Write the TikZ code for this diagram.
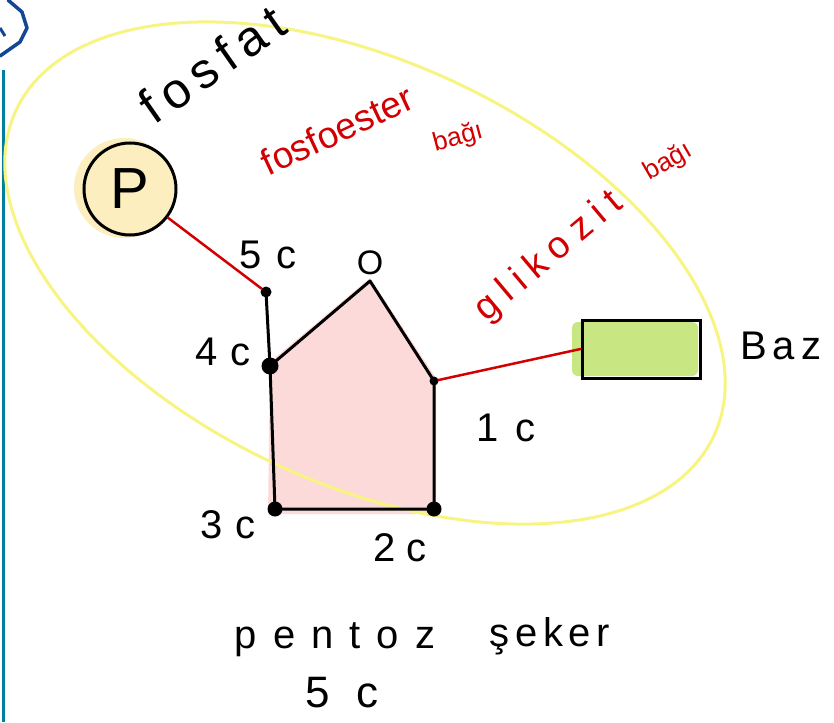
\documentclass[tikz,border=0pt]{standalone}
\usepackage{fontspec}
\setmainfont{Liberation Sans}
\definecolor{ellipseyellow}{RGB}{248,244,130}
\definecolor{sugarpink}{RGB}{253,218,218}
\definecolor{phosfill}{RGB}{252,238,190}
\definecolor{basegreen}{RGB}{200,230,130}
\definecolor{bondred}{RGB}{210,0,0}
\definecolor{marginteal}{RGB}{0,128,160}
\definecolor{penblue}{RGB}{20,70,150}
\newcommand{\lsp}[2]{{\addfontfeature{LetterSpace=#1}#2}}
\begin{document}
\begin{tikzpicture}[x=1pt,y=-1pt,
  ink/.style={line width=3pt, line cap=round, line join=round, black},
  bond/.style={line width=2.5pt, line cap=round, bondred},
  lbl/.style={inner sep=0pt, font=\fontsize{40}{44}\selectfont},
  redlbl/.style={inner sep=0pt, text=bondred},
  dot/.style={circle, fill=black, inner sep=0pt}]
\useasboundingbox (0,0) rectangle (834,722);

% margin marks
\draw[line width=3pt, marginteal] (3,70) -- (3,722);
\draw[line width=3.5pt, penblue, line cap=round, line join=round]
  (8,0) -- (22,12) -- (27,28) -- (20,42) -- (0,56);
\draw[line width=3pt, penblue] (0,28) -- (5,36);

% fills
\fill[sugarpink] (270,362) -- (370,278) -- (436,378) -- (436,514) -- (268,514) -- cycle;
\fill[basegreen, rounded corners=6pt] (572,322) rectangle (698,376);
\fill[phosfill] (124,188) circle (50);

% ellipse
\draw[line width=3pt, ellipseyellow, rotate around={-25:(365,273)}] (365,273) ellipse [x radius=385, y radius=211];

% coordinates
\coordinate (c5) at (266,292);
\coordinate (c4) at (270,366);
\coordinate (o) at (370,281);
\coordinate (c1) at (434,381);
\coordinate (c2) at (434,509);
\coordinate (c3) at (275,509);

% phosphate
\node[circle, draw=black, line width=3pt, minimum size=92pt, inner sep=0pt,
      font=\fontsize{58}{60}\selectfont] (p) at (130,189) {P};

% sugar ring
\draw[ink] (c4) -- (o) -- (c1) -- (c2) -- (c3) -- cycle;
\draw[ink] (c5) -- (c4);
\node[dot, minimum size=11pt] (d5) at (c5) {};
\node[dot, minimum size=17pt] (d4) at (c4) {};
\node[dot, minimum size=9pt] (d1) at (c1) {};
\node[dot, minimum size=15pt] (d2) at (c2) {};
\node[dot, minimum size=15pt] (d3) at (c3) {};

% base
\node[draw=black, line width=3pt, minimum width=118pt, minimum height=58pt, inner sep=0pt] (baz) at (641,349) {};

% bonds
\draw[bond] (p) -- (d5);
\draw[bond] (d1) -- (baz.west);

% labels
\node[lbl, rotate=35, font=\fontsize{50}{54}\selectfont] (fosfat) at (212,64) {\lsp{17}{fosfat}};
\node[redlbl, rotate=25, font=\fontsize{37}{40}\selectfont] (fe) at (337,130) {fosfoester};
\node[redlbl, rotate=15, font=\fontsize{26}{28}\selectfont] (fe2) at (458,138) {bağı};
\node[redlbl, rotate=40, font=\fontsize{38}{40}\selectfont] (gl) at (549,257) {\lsp{24}{glikozit}};
\node[redlbl, rotate=30, font=\fontsize{26}{28}\selectfont] (gl2) at (668,162) {bağı};

\node[lbl] (l5) at (268,255) {\lsp{10}{5 c}};
\node[lbl, font=\fontsize{34}{36}\selectfont] (lo) at (370,263) {O};
\node[lbl] (l4) at (223,352) {\lsp{5}{4 c}};
\node[lbl] (l1) at (506,428) {\lsp{15}{1 c}};
\node[lbl] (l3) at (228,525) {\lsp{5}{3 c}};
\node[lbl] (l2) at (400,548) {2 c};
\node[lbl, anchor=west, font=\fontsize{40}{44}\selectfont] (lb) at (740,346) {\lsp{15}{Baz}};

\node[lbl] (pen) at (335,640) {\lsp{40}{pentoz}};
\node[lbl] (sek) at (550,636) {\lsp{14}{şeker}};
\node[lbl, font=\fontsize{44}{48}\selectfont] (five) at (342,693) {\lsp{34}{5 c}};
\end{tikzpicture}
\end{document}
